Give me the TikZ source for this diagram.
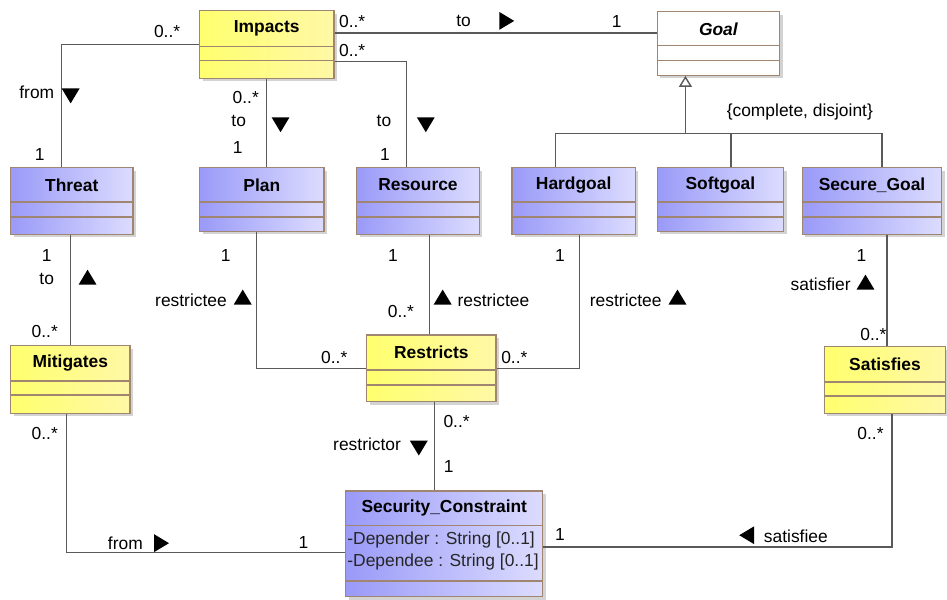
\documentclass[tikz,border=0pt]{standalone}
\usepackage{fontspec}
\setmainfont{Liberation Sans}
\usetikzlibrary{arrows.meta, positioning, shapes.geometric, shadows}

\definecolor{umlborder}{HTML}{A08670}
\definecolor{umlline}{HTML}{5A5A5A}
\definecolor{blueleft}{HTML}{9A9AF8}
\definecolor{blueright}{HTML}{DCDCFF}
\definecolor{yellowleft}{HTML}{FFFF6E}
\definecolor{yellowright}{HTML}{FFF8A6}

\begin{document}
\begin{tikzpicture}[
    x=1pt, y=-1pt,
    every node/.style={font=\fontsize{17.5}{21}\selectfont},
    classbox/.style={draw=umlborder, line width=1.3pt, anchor=north west, inner sep=0pt,
        drop shadow={shadow xshift=3pt, shadow yshift=-3pt, opacity=0.35}},
    bclass/.style={classbox, left color=blueleft, right color=blueright},
    yclass/.style={classbox, left color=yellowleft, right color=yellowright},
    wclass/.style={classbox, fill=white},
    clsname/.style={anchor=center, yshift=-18pt, font=\fontsize{17.5}{21}\selectfont\bfseries},
    divider/.style={draw=umlborder, line width=1.3pt},
    assoc/.style={draw=umlline, line width=1.4pt},
    gen/.style={assoc, -{Triangle[open, width=13pt, length=11pt, fill=white]}},
    lbl/.style={inner sep=1pt},
    dirtri/.style={isosceles triangle, isosceles triangle stretches, fill=black, inner sep=0pt,
        minimum width=18pt, minimum height=15pt, shape border rotate=#1}
]
    % classes
    \node[yclass, minimum width=135pt, minimum height=68pt, label={[clsname]north:Impacts}] (impacts) at (200,10) {};
    \node[wclass, minimum width=123pt, minimum height=64pt,
          label={[clsname, font=\fontsize{17.5}{21}\selectfont\bfseries\itshape]north:Goal}] (goal) at (660,11) {};
    \node[bclass, minimum width=123pt, minimum height=67pt, label={[clsname]north:Threat}] (threat) at (10,168) {};
    \node[bclass, minimum width=125pt, minimum height=64pt, label={[clsname]north:Plan}] (plan) at (200,168) {};
    \node[bclass, minimum width=123pt, minimum height=67pt, label={[clsname]north:Resource}] (resource) at (358,168) {};
    \node[bclass, minimum width=124pt, minimum height=67pt, label={[clsname]north:Hardgoal}] (hardgoal) at (514,168) {};
    \node[bclass, minimum width=127pt, minimum height=64pt, label={[clsname]north:Softgoal}] (softgoal) at (660,168) {};
    \node[bclass, minimum width=140pt, minimum height=67pt, label={[clsname]north:Secure\_Goal}] (securegoal) at (806,168) {};
    \node[yclass, minimum width=120pt, minimum height=68pt, label={[clsname]north:Mitigates}] (mitigates) at (10,347) {};
    \node[yclass, minimum width=130pt, minimum height=67pt, label={[clsname]north:Restricts}] (restricts) at (368,336) {};
    \node[yclass, minimum width=122pt, minimum height=67pt, label={[clsname]north:Satisfies}] (satisfies) at (828,348) {};
    \node[bclass, minimum width=198pt, minimum height=106pt, label={[clsname]north:Security\_Constraint}] (sc) at (347,493) {};

    % compartments
    \foreach \n/\a/\b in {impacts/37/51, goal/35/50, threat/35/50, plan/35/50, resource/35/50,
        hardgoal/35/50, softgoal/35/50, securegoal/35/50, mitigates/36/50, restricts/36/51,
        satisfies/36/50, sc/35/91} {
        \draw[divider] ([yshift=-\a pt]\n.north west) -- ([yshift=-\a pt]\n.north east);
        \draw[divider] ([yshift=-\b pt]\n.north west) -- ([yshift=-\b pt]\n.north east);
    }
    \node[lbl, anchor=west, text=black!85] (attr1) at (348,543) {-Depender : String [0..1]};
    \node[lbl, anchor=west, text=black!85] (attr2) at (348,565) {-Dependee : String [0..1]};

    % associations
    \draw[assoc] ([yshift=-23pt]impacts.north east) -- ([yshift=-22pt]goal.north west);
    \draw[assoc] ([yshift=-52pt]impacts.north east) -| ([xshift=-11.5pt]resource.north);
    \draw[assoc] (impacts.west) -| ([xshift=-10.5pt]threat.north);
    \draw[assoc] (impacts.south) -- (impacts.south |- plan.north);
    \draw[assoc] (threat.south -| mitigates.north) -- (mitigates.north);
    \draw[assoc] ([xshift=-5.5pt]plan.south) |- (restricts.west);
    \draw[assoc] ([xshift=-2pt]restricts.north |- resource.south) -- ([xshift=-2pt]restricts.north);
    \draw[assoc] ([xshift=6pt]hardgoal.south) |- (restricts.east);
    \draw[assoc] ([xshift=2pt]satisfies.north |- securegoal.south) -- ([xshift=2pt]satisfies.north);
    \draw[assoc] ([xshift=3pt]restricts.south) -- ([xshift=3pt]restricts.south |- sc.north);
    \draw[assoc] ([xshift=-4pt]mitigates.south) |- ([yshift=-9pt]sc.west);
    \draw[assoc] ([yshift=-3pt]sc.east) -| ([xshift=7pt]satisfies.south);

    % generalization
    \coordinate (split) at (689,134);
    \draw[assoc] ([xshift=-18pt]hardgoal.north) |- (split) -| ([xshift=10pt]securegoal.north);
    \draw[assoc] ([xshift=10.5pt]softgoal.north) -- ([xshift=10.5pt]softgoal.north |- split);
    \draw[gen] (split) -- (split |- goal.south);
    \node[lbl] (gset) at (804,113) {\{complete, disjoint\}};

    % roles and multiplicities
    \node[lbl] (m1) at (168,32) {0..*};
    \node[lbl] (m2) at (354,22) {0..*};
    \node[lbl] (m3) at (354,51) {0..*};
    \node[lbl] (m4) at (620,22) {1};
    \node[lbl] (r1) at (466,21) {to};
    \node[dirtri=0] (t1) at (507,21) {};
    \node[lbl] (r2) at (37,93) {from};
    \node[dirtri=-90] (t2) at (71,94) {};
    \node[lbl] (m5) at (40,155) {1};
    \node[lbl] (m6) at (247,98) {0..*};
    \node[lbl] (r3) at (240,122) {to};
    \node[lbl] (m7) at (239,148) {1};
    \node[dirtri=-90] (t3) at (282,123) {};
    \node[lbl] (r4) at (386,122) {to};
    \node[dirtri=-90] (t4) at (428,123) {};
    \node[lbl] (m8) at (387,155) {1};

    \node[lbl] (m9) at (47,257) {1};
    \node[lbl] (r5) at (47,280) {to};
    \node[dirtri=90] (t5) at (88,281) {};
    \node[lbl] (m10) at (45,333) {0..*};

    \node[lbl] (m11) at (227,257) {1};
    \node[lbl] (r6) at (192,302) {restrictee};
    \node[dirtri=90] (t6) at (244,301) {};
    \node[lbl] (m12) at (336,359) {0..*};

    \node[lbl] (m13) at (395,257) {1};
    \node[lbl] (m14) at (403,313) {0..*};
    \node[dirtri=90] (t7) at (445,301) {};
    \node[lbl] (r7) at (496,302) {restrictee};

    \node[lbl] (m15) at (563,257) {1};
    \node[lbl] (r8) at (629,302) {restrictee};
    \node[dirtri=90] (t8) at (681,301) {};
    \node[lbl] (m16) at (517,359) {0..*};

    \node[lbl] (m17) at (866,257) {1};
    \node[lbl] (r9) at (825,286) {satisfier};
    \node[dirtri=90] (t9) at (870,286) {};
    \node[lbl] (m18) at (878,336) {0..*};

    \node[lbl] (m19) at (45,436) {0..*};
    \node[lbl] (m20) at (459,424) {0..*};
    \node[lbl] (r10) at (369,447) {restrictor};
    \node[dirtri=-90] (t10) at (421,448) {};
    \node[lbl] (m21) at (451,469) {1};

    \node[lbl] (r11) at (126,546) {from};
    \node[dirtri=0] (t11) at (160,546) {};
    \node[lbl] (m22) at (305,545) {1};

    \node[lbl] (m23) at (563,537) {1};
    \node[dirtri=180] (t12) at (753,538) {};
    \node[lbl] (r12) at (800,539) {satisfiee};
    \node[lbl] (m24) at (875,436) {0..*};

    \useasboundingbox (0,0) rectangle (947,603);
\end{tikzpicture}
\end{document}
